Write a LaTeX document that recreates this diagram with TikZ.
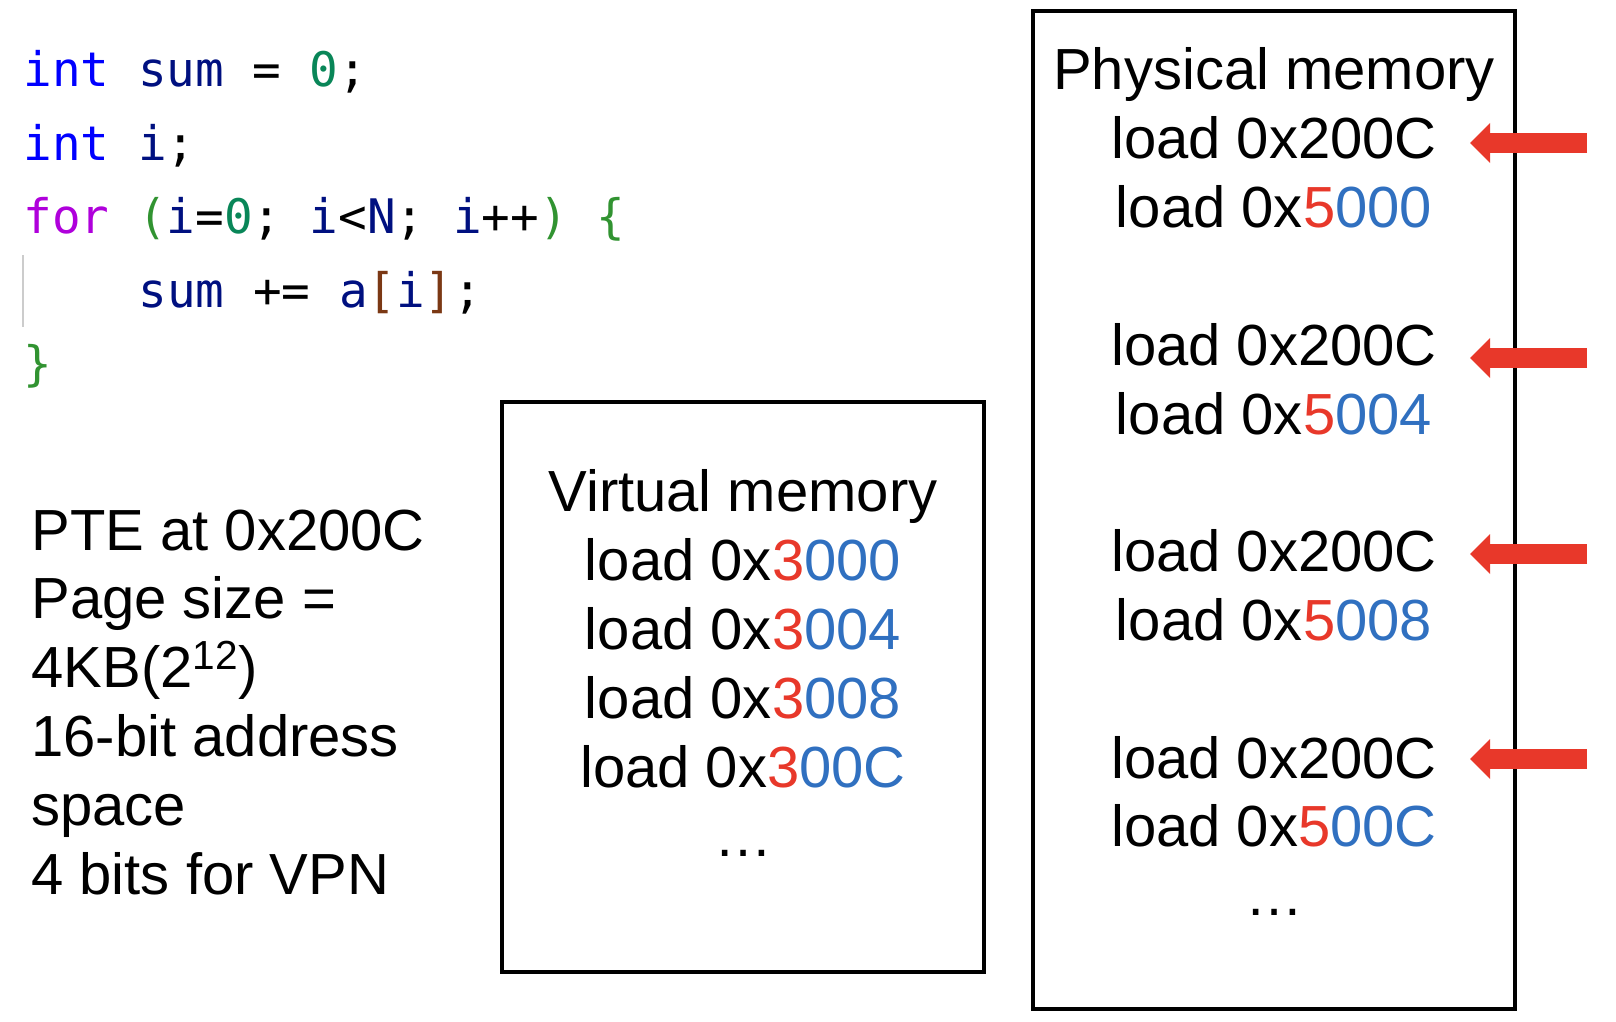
\documentclass[tikz,border=0pt]{standalone}
\usepackage{fontspec}
\setmainfont{Liberation Sans}
\setmonofont{DejaVu Sans Mono}
\definecolor{kwBlue}{HTML}{0000FF}
\definecolor{kwPurple}{HTML}{AF00DB}
\definecolor{idNavy}{HTML}{001080}
\definecolor{numGreen}{HTML}{098658}
\definecolor{brGreen}{HTML}{319331}
\definecolor{brBrown}{HTML}{7B3814}
\definecolor{addrRed}{HTML}{E8382A}
\definecolor{addrBlue}{HTML}{3070C0}
\usetikzlibrary{arrows.meta}
\newcommand{\pgbits}[1]{{\color{addrRed}#1}}
\newcommand{\offbits}[1]{{\color{addrBlue}#1}}
\newcommand{\kw}[1]{{\color{kwBlue}#1}}
\newcommand{\idf}[1]{{\color{idNavy}#1}}

\begin{document}
\begin{tikzpicture}[
  x=0.5pt, y=-0.5pt,
  memtxt/.style={font=\fontsize{29}{34.5}\selectfont, inner sep=0pt, anchor=base},
  note/.style={memtxt, anchor=base west},
  codeline/.style={font=\ttfamily\fontsize{23.8}{30}\selectfont, inner sep=0pt, anchor=base west},
  membox/.style={draw, line width=2pt, inner sep=0pt},
  hitarrow/.style={draw=addrRed, line width=10pt,
    -{Triangle[length=10pt, width=20pt, line width=0pt]}}
]
  \useasboundingbox (0,0) rectangle (1616,1022);

  % source code
  \node[codeline] (c1) at (23,87) {\kw{int} \idf{sum} = {\color{numGreen}0};};
  \node[codeline] (c2) at (23,160) {\kw{int} \idf{i};};
  \node[codeline] (c3) at (23,233) {{\color{kwPurple}for} {\color{brGreen}(}\idf{i}={\color{numGreen}0}; \idf{i}<\idf{N}; \idf{i}++{\color{brGreen})} {\color{brGreen}\{}};
  \node[codeline] (c4) at (138,307) {\idf{sum} += \idf{a}{\color{brBrown}[}\idf{i}{\color{brBrown}]};};
  \node[codeline] (c5) at (23,380) {{\color{brGreen}\}}};
  \draw[black!20, line width=1pt] (23,255) -- (23,327);

  % notes
  \foreach \k/\txt in {0/{PTE at 0x200C}, 1/{Page size =}, 2/{4KB(2\textsuperscript{12})},
      3/{16-bit address}, 4/{space}, 5/{4 bits for VPN}}
    \node[note] (n\k) at (31,{550+68.9*\k}) {\txt};

  % virtual memory
  \node[membox, minimum width=241pt, minimum height=285pt] (vm) at (743,687) {};
  \foreach \k/\txt in {0/{Virtual memory}, 1/{load 0x\pgbits{3}\offbits{000}},
      2/{load 0x\pgbits{3}\offbits{004}}, 3/{load 0x\pgbits{3}\offbits{008}},
      4/{load 0x\pgbits{3}\offbits{00C}}, 5/{…}}
    \node[memtxt] (vl\k) at (743,{511+69*\k}) {\txt};

  % physical memory
  \node[membox, minimum width=241pt, minimum height=499pt] (pm) at (1274,510) {};
  \foreach \k/\txt in {0/{Physical memory}, 1/{load 0x200C}, 2/{load 0x\pgbits{5}\offbits{000}},
      4/{load 0x200C}, 5/{load 0x\pgbits{5}\offbits{004}},
      7/{load 0x200C}, 8/{load 0x\pgbits{5}\offbits{008}},
      10/{load 0x200C}, 11/{load 0x\pgbits{5}\offbits{00C}}, 12/{…}}
    \node[memtxt] (pl\k) at (1274,{90+68.8*\k}) {\txt};

  % page table accesses
  \foreach \y [count=\i] in {143,358,554,759} {
    \coordinate (tail\i) at (1587,\y);
    \coordinate (tip\i) at (1470,\y);
    \draw[hitarrow] (tail\i) -- (tip\i);
  }
\end{tikzpicture}
\end{document}
